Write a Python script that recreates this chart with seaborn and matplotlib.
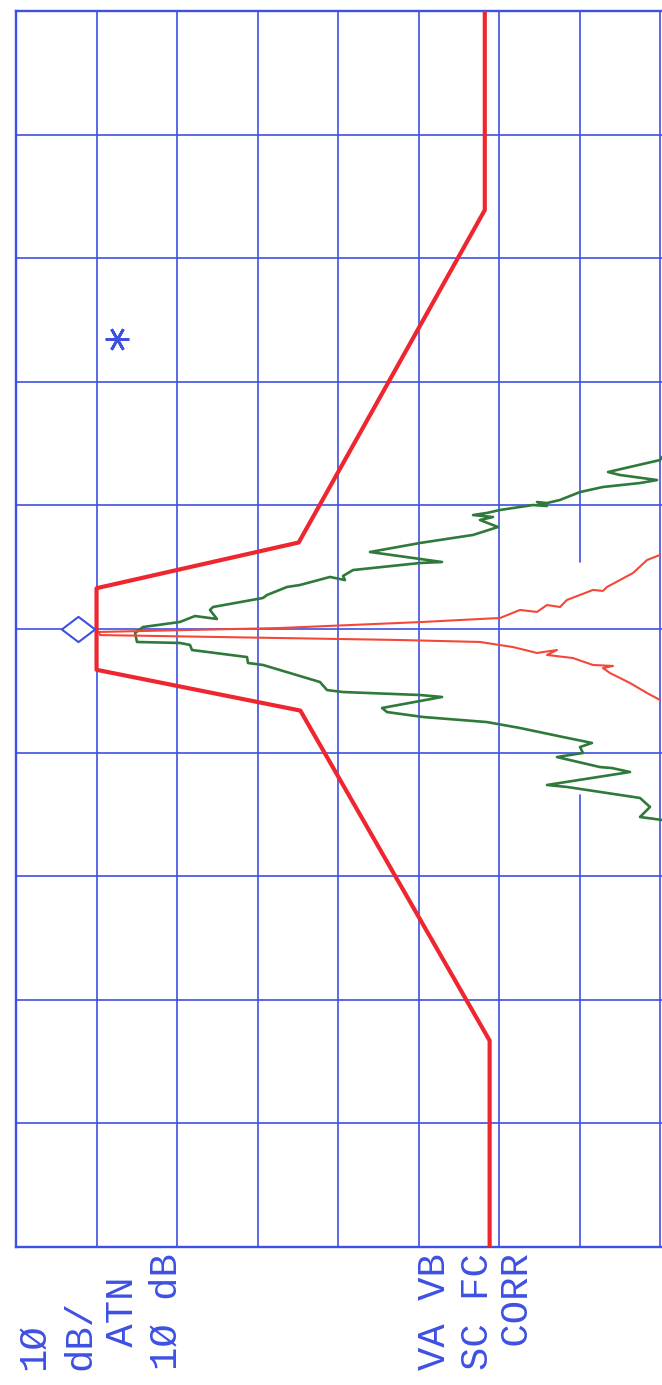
import numpy as np
import pandas as pd
import matplotlib
matplotlib.use("Agg")
import matplotlib.pyplot as plt
from matplotlib.path import Path
from matplotlib.transforms import blended_transform_factory
import seaborn as sns

# ---- data: level in dB below the reference line, frequency offset in divisions ----
mask_level = [58.2, 58.2, 35.1, 10.0, 10.0, 35.3, 58.8, 58.8]
mask_freq = [5.0, 3.39, 0.70, 0.33, -0.33, -0.66, -3.33, -5.0]

wide_level = [80.2, 79.95, 73.5, 74.98, 79.58, 77.47, 72.87, 70.02, 67.54, 65.92,
              64.68, 65.92, 64.18, 60.09, 58.47, 56.74, 59.22, 57.60, 59.84, 56.74,
              50.16, 43.95, 52.89, 50.16, 41.84, 40.60, 40.84, 38.98, 35.26, 33.64,
              31.16, 30.66, 24.46, 24.08, 24.95, 22.22, 20.36, 15.77, 14.78, 15.02,
              20.36, 21.60, 21.85, 28.68, 28.80, 30.66, 37.74, 38.61, 40.60, 50.16,
              52.89, 45.44, 46.06, 50.53, 58.47, 62.57, 67.91, 71.51, 70.02, 70.39,
              67.16, 72.50, 73.99, 76.23, 65.92, 68.40, 77.47, 78.71, 77.47, 80.2]
wide_freq = [1.392, 1.367, 1.270, 1.246, 1.205, 1.181, 1.149, 1.108, 1.044, 1.019,
             1.027, 0.995, 1.003, 0.963, 0.939, 0.922, 0.906, 0.882, 0.825, 0.761,
             0.696, 0.623, 0.542, 0.534, 0.477, 0.429, 0.396, 0.421, 0.356, 0.340,
             0.275, 0.251, 0.178, 0.154, 0.081, 0.105, 0.057, 0.016, -0.032, -0.105,
             -0.113, -0.129, -0.170, -0.227, -0.275, -0.291, -0.429, -0.494, -0.510, -0.534,
             -0.550, -0.639, -0.672, -0.712, -0.753, -0.801, -0.874, -0.922, -0.955, -1.003,
             -1.036, -1.117, -1.125, -1.157, -1.262, -1.278, -1.367, -1.440, -1.521, -1.545]

narrow_level = [79.95, 78.34, 76.60, 73.37, 72.87, 71.63, 68.40, 67.54, 65.92, 64.68,
                62.57, 60.09, 57.60, 50.53, 32.77, 10.30, 10.43, 32.77, 47.67, 57.60,
                61.70, 64.68, 67.16, 65.92, 69.15, 71.63, 74.11, 72.87, 73.74, 76.23,
                78.34, 79.95]
narrow_freq = [0.599, 0.558, 0.453, 0.340, 0.308, 0.316, 0.235, 0.178, 0.194, 0.138,
               0.154, 0.089, 0.081, 0.057, 0.008, -0.024, -0.049, -0.073, -0.089, -0.105,
               -0.146, -0.194, -0.170, -0.210, -0.235, -0.291, -0.299, -0.316, -0.356, -0.437,
               -0.518, -0.574]

marker_level, marker_freq = 7.7, 0.0
star_level, star_freq = 12.5, 2.35

level_lines = [10, 20, 30, 40, 50, 60, 70, 80]
freq_lines = [-4, -3, -2, -1, 0, 1, 2, 3, 4]

annotations = ["1Ø", "dB/", " ATN", "1Ø dB", "VA VB", "SC FC", " CORR"]

# ---- styling ----
BLUE = "#3d50e2"
MASK_RED = "#ee2630"
TRACE_RED = "#f4473a"
GREEN = "#2f7a3a"

sns.set_theme(style="white")
plt.rcParams["font.family"] = ["Liberation Mono", "DejaVu Sans Mono"]

fig = plt.figure(figsize=(6.62, 13.85), dpi=100)
ax = fig.add_axes([16 / 662, 138 / 1385, 646 / 662, 1236 / 1385])
ax.set_xlim(0, 80.2)
ax.set_ylim(-5, 5)

# graticule
for lv in level_lines:
    if lv == 70:
        ax.plot([lv, lv], [0.54, 5], color=BLUE, lw=1.2, zorder=1)
        ax.plot([lv, lv], [-1.34, -5], color=BLUE, lw=1.2, zorder=1)
    else:
        ax.axvline(lv, color=BLUE, lw=1.2, zorder=1)
for fq in freq_lines:
    ax.axhline(fq, color=BLUE, lw=1.2, zorder=1)

for side in ["left", "top", "bottom"]:
    ax.spines[side].set_color(BLUE)
    ax.spines[side].set_linewidth(1.7)
ax.spines["right"].set_visible(False)
ax.set_xticks([])
ax.set_yticks([])

# limit mask and traces
mask_df = pd.DataFrame({"level": mask_level, "freq": mask_freq})
wide_df = pd.DataFrame({"level": wide_level, "freq": wide_freq})
narrow_df = pd.DataFrame({"level": narrow_level, "freq": narrow_freq})

sns.lineplot(data=wide_df, x="level", y="freq", sort=False, estimator=None,
             color=GREEN, lw=1.9, ax=ax, zorder=3)
sns.lineplot(data=narrow_df, x="level", y="freq", sort=False, estimator=None,
             color=TRACE_RED, lw=1.5, ax=ax, zorder=3)
sns.lineplot(data=mask_df, x="level", y="freq", sort=False, estimator=None,
             color=MASK_RED, lw=3.0, ax=ax, zorder=4)
ax.set_xlabel("")
ax.set_ylabel("")

# marker diamond and asterisk
diamond = Path([(-1.32, 0), (0, 1), (1.32, 0), (0, -1), (-1.32, 0)],
               [Path.MOVETO, Path.LINETO, Path.LINETO, Path.LINETO, Path.CLOSEPOLY])
ax.plot([marker_level], [marker_freq], marker=diamond, markersize=24,
        markerfacecolor="white", markeredgecolor=BLUE, markeredgewidth=1.5,
        linestyle="none", zorder=5)
ax.plot([star_level], [star_freq], marker=(6, 2, 90), markersize=17,
        markeredgecolor=BLUE, markeredgewidth=2.0, linestyle="none", zorder=5)

# annotation column below the graticule (text runs upward)
label_cols = [2.2, 7.95, 13.3, 18.75, 52.0, 57.4, 62.3]
trans = blended_transform_factory(ax.transData, fig.transFigure)
for txt, col in zip(annotations, label_cols):
    ax.text(col, 15 / 1385, txt, transform=trans, rotation=90,
            rotation_mode="anchor", ha="left", va="center",
            fontsize=28, color=BLUE, clip_on=False)

fig.savefig("out.png", dpi=100)
